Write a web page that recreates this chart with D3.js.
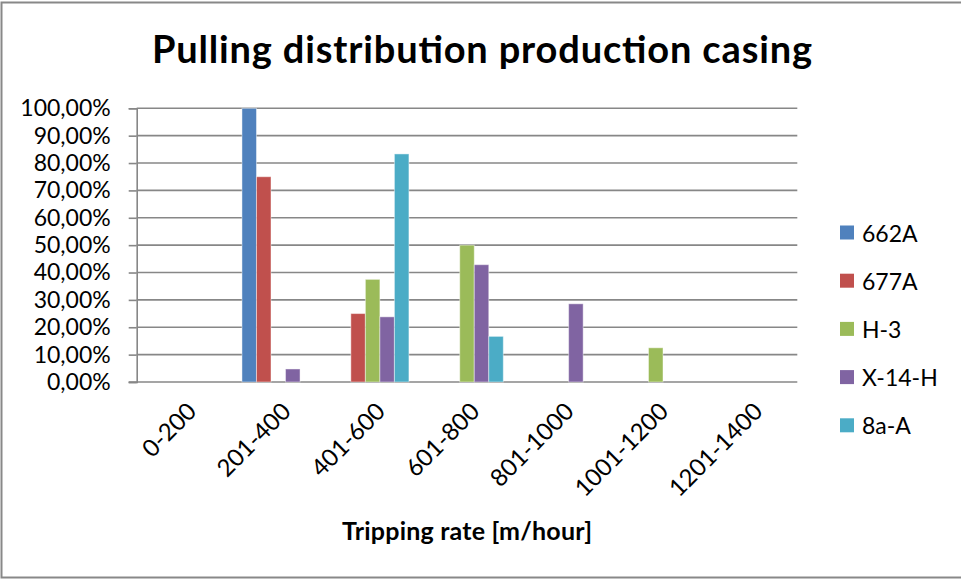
<!DOCTYPE html>
<html>
<head>
<meta charset="utf-8">
<script src="https://cdn.jsdelivr.net/npm/d3@7"></script>
<style>
  html, body { margin: 0; padding: 0; background: #fff; }
  svg { display: block; font-family: Lato, "Open Sans", sans-serif; }
</style>
</head>
<body>
<svg id="chart" width="961" height="579"></svg>
<script>
// Tripping-rate bins (m/hour)
const categories = ["0-200", "201-400", "401-600", "601-800", "801-1000", "1001-1200", "1201-1400"];
// Well names, in legend order
const seriesNames = ["662A", "677A", "H-3", "X-14-H", "8a-A"];
// Share of pulls per bin, for each well
const values662A = [0, 1.0, 0, 0, 0, 0, 0];
const values677A = [0, 0.75, 0.25, 0, 0, 0, 0];
const valuesH3 = [0, 0, 0.375, 0.5, 0, 0.125, 0];
const valuesX14H = [0, 0.0476, 0.2381, 0.4286, 0.2857, 0, 0];
const values8aA = [0, 0, 0.8333, 0.1667, 0, 0, 0];
// Y axis ticks
const yTicks = [0, 0.1, 0.2, 0.3, 0.4, 0.5, 0.6, 0.7, 0.8, 0.9, 1.0];

const seriesValues = [values662A, values677A, valuesH3, valuesX14H, values8aA];
const colors = ["#4F81BD", "#C0504D", "#9BBB59", "#8064A2", "#4BACC6"];

const svg = d3.select("#chart");
const plot = { left: 136.7, right: 797.3, top: 108.3, bottom: 382 };

// Outer chart frame
svg.append("rect")
  .attr("x", 1.5).attr("y", 2.5)
  .attr("width", 975).attr("height", 575)
  .attr("fill", "none").attr("stroke", "#888").attr("stroke-width", 2);

const x = d3.scaleBand().domain(categories).range([plot.left, plot.right]).padding(0);
const xs = d3.scaleBand().domain(seriesNames).range([0, x.bandwidth()])
  .paddingInner(0).paddingOuter(0.75);
const y = d3.scaleLinear().domain([0, 1]).range([plot.bottom, plot.top]);

const pct = v => d3.format(".2%")(v).replace(".", ",");

// Horizontal gridlines
svg.append("g")
  .selectAll("line")
  .data(yTicks.slice(1))
  .join("line")
  .attr("x1", plot.left).attr("x2", plot.right)
  .attr("y1", d => y(d)).attr("y2", d => y(d))
  .attr("stroke", "#878787").attr("stroke-width", 1.6);

// Y axis
const yAxis = svg.append("g")
  .attr("transform", `translate(${plot.left},0)`)
  .call(d3.axisLeft(y).tickValues(yTicks).tickFormat(pct).tickSize(8).tickPadding(18));
yAxis.select(".domain").attr("stroke", "#878787").attr("stroke-width", 1.6);
yAxis.selectAll(".tick line").attr("stroke", "#878787").attr("stroke-width", 1.6);
yAxis.selectAll(".tick text")
  .attr("fill", "#000").attr("font-size", 23).attr("font-family", "Lato, sans-serif");

// X axis baseline
svg.append("line")
  .attr("x1", plot.left - 8).attr("x2", plot.right)
  .attr("y1", y(0)).attr("y2", y(0))
  .attr("stroke", "#878787").attr("stroke-width", 1.6);

// Bars
const groups = svg.append("g").selectAll("g")
  .data(seriesNames.map((name, i) => ({ name, color: colors[i], values: seriesValues[i] })))
  .join("g")
  .attr("fill", d => d.color);
groups.selectAll("rect")
  .data(d => d.values.map((v, j) => ({ name: d.name, cat: categories[j], v })).filter(e => e.v > 0))
  .join("rect")
  .attr("x", e => x(e.cat) + xs(e.name))
  .attr("width", xs.bandwidth())
  .attr("y", e => y(e.v))
  .attr("height", e => y(0) - y(e.v))
  .attr("stroke", "rgba(255,255,255,0.45)").attr("stroke-width", 1);

// Category labels, rotated
svg.append("g")
  .selectAll("text")
  .data(categories)
  .join("text")
  .attr("transform", d => `translate(${x(d) + x.bandwidth() / 2 + 14},${413}) rotate(-45)`)
  .attr("text-anchor", "end")
  .attr("font-size", 24)
  .attr("fill", "#000")
  .text(d => d);

// Title
svg.append("text")
  .attr("x", 482).attr("y", 63)
  .attr("text-anchor", "middle")
  .attr("font-size", 38).attr("font-weight", "bold")
  .attr("textLength", 660).attr("lengthAdjust", "spacing")
  .attr("fill", "#000")
  .text("Pulling distribution production casing");

// X axis title
svg.append("text")
  .attr("x", 467).attr("y", 540)
  .attr("text-anchor", "middle")
  .attr("font-size", 25).attr("font-weight", "bold")
  .attr("textLength", 250).attr("lengthAdjust", "spacing")
  .attr("fill", "#000")
  .text("Tripping rate [m/hour]");

// Legend
const legend = svg.append("g").selectAll("g")
  .data(seriesNames)
  .join("g")
  .attr("transform", (d, i) => `translate(840,${232.5 + i * 48.2})`);
legend.append("rect")
  .attr("x", 0).attr("y", -7).attr("width", 14).attr("height", 14)
  .attr("fill", (d, i) => colors[i]);
legend.append("text")
  .attr("x", 22).attr("y", 0)
  .attr("dominant-baseline", "central")
  .attr("font-size", 23).attr("fill", "#000")
  .text(d => d);
</script>
</body>
</html>
